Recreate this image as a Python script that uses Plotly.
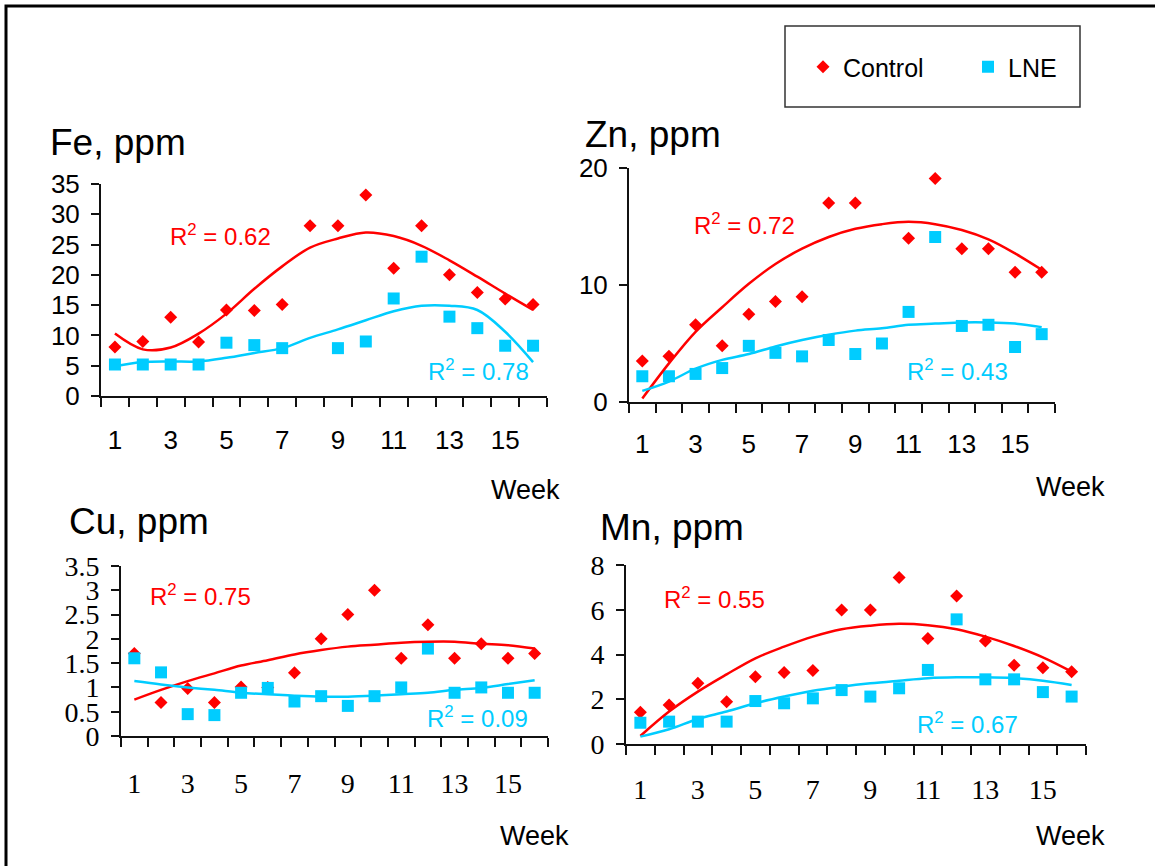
import plotly.graph_objects as go

W, H = 1155, 866

weeks = list(range(1, 17))

# ---- Fe, ppm ----
fe_control = [8.1, 9.0, 13.0, 8.9, 14.2, 14.1, 15.1, 28.1, 28.1, 33.2, 21.1, 28.1, 20.0, 17.1, 16.0, 15.1]
fe_lne = [5.2, 5.2, 5.2, 5.2, 8.8, 8.4, 7.9, None, 7.9, 9.0, 16.1, 23.0, 13.1, 11.2, 8.3, 8.3]
fe_control_trend = [10.3, 7.7, 8.0, 10.3, 13.6, 17.7, 21.4, 24.5, 26.0, 27.0, 26.4, 24.8, 22.4, 19.7, 16.9, 14.2]
fe_lne_trend = [4.9, 5.6, 5.7, 5.7, 6.3, 7.1, 7.9, 9.6, 11.0, 12.5, 14.0, 14.9, 14.9, 14.2, 10.6, 5.6]

# ---- Zn, ppm ----
zn_control = [3.5, 3.9, 6.6, 4.8, 7.5, 8.6, 9.0, 17.0, 17.0, None, 14.0, 19.1, 13.1, 13.1, 11.1, 11.1]
zn_lne = [2.2, 2.2, 2.4, 2.9, 4.8, 4.2, 3.9, 5.3, 4.1, 5.0, 7.7, 14.1, 6.5, 6.6, 4.7, 5.8]
zn_control_trend = [0.3, 3.3, 6.0, 8.1, 10.1, 11.8, 13.1, 14.1, 14.8, 15.2, 15.4, 15.2, 14.7, 13.9, 12.7, 11.3]
zn_lne_trend = [0.95, 1.75, 2.85, 3.6, 4.1, 4.75, 5.3, 5.75, 6.1, 6.3, 6.6, 6.7, 6.8, 6.8, 6.7, 6.4]

# ---- Cu, ppm ----
cu_control = [1.70, 0.69, 0.98, 0.69, 1.01, 1.0, 1.30, 2.0, 2.5, 3.0, 1.6, 2.29, 1.6, 1.9, 1.6, 1.7]
cu_lne = [1.6, 1.31, 0.45, 0.43, 0.89, 0.99, 0.71, 0.82, 0.62, 0.82, 1.0, 1.8, 0.89, 1.0, 0.89, 0.89]
cu_control_trend = [0.75, 0.95, 1.13, 1.29, 1.45, 1.56, 1.68, 1.77, 1.84, 1.88, 1.92, 1.94, 1.94, 1.90, 1.87, 1.80]
cu_lne_trend = [1.13, 1.06, 1.0, 0.95, 0.89, 0.86, 0.83, 0.81, 0.81, 0.83, 0.86, 0.89, 0.95, 0.99, 1.07, 1.15]

# ---- Mn, ppm ----
mn_control = [1.42, 1.74, 2.71, 1.89, 3.01, 3.2, 3.28, 5.99, 5.99, 7.44, 4.72, 6.62, 4.6, 3.52, 3.41, 3.23]
mn_lne = [0.95, 1.0, 1.0, 1.0, 1.92, 1.82, 2.04, 2.41, 2.12, 2.49, 3.31, 5.57, 2.89, 2.89, 2.32, 2.12]
mn_control_trend = [0.36, 1.45, 2.34, 3.11, 3.83, 4.35, 4.8, 5.13, 5.29, 5.37, 5.31, 5.13, 4.8, 4.38, 3.87, 3.23]
mn_lne_trend = [0.33, 0.66, 1.12, 1.45, 1.82, 2.12, 2.38, 2.56, 2.71, 2.83, 2.94, 2.98, 2.98, 2.94, 2.83, 2.64]

x_tick_vals = [1, 3, 5, 7, 9, 11, 13, 15]
x_tick_text = ["1", "3", "5", "7", "9", "11", "13", "15"]
x_bounds = [i + 0.5 for i in range(0, 17)]

RED = "#FF0000"
CYAN = "#00CCFF"
SANS = "Liberation Sans, Arial, sans-serif"
SERIF = "Liberation Serif, Times New Roman, serif"

panels = [
    dict(title="Fe, ppm", c=fe_control, l=fe_lne, ct=fe_control_trend, lt=fe_lne_trend,
         ymax=35, yvals=[0, 5, 10, 15, 20, 25, 30, 35], ytext=None,
         dx=(101, 547), dy=(184, 396), font=SANS, fsize=26, r2c="0.62", r2l="0.78",
         tpos=(48, 142), wpos=(562, 490), rc=(168, 235), rl=(426, 370), stand=20),
    dict(title="Zn, ppm", c=zn_control, l=zn_lne, ct=zn_control_trend, lt=zn_lne_trend,
         ymax=20, yvals=[0, 10, 20], ytext=None,
         dx=(629, 1055), dy=(168, 402), font=SANS, fsize=26, r2c="0.72", r2l="0.43",
         tpos=(583, 134), wpos=(1107, 487), rc=(692, 224), rl=(905, 370), stand=18),
    dict(title="Cu, ppm", c=cu_control, l=cu_lne, ct=cu_control_trend, lt=cu_lne_trend,
         ymax=3.5, yvals=[0, 0.5, 1, 1.5, 2, 2.5, 3, 3.5],
         ytext=["0", "0.5", "1", "1.5", "2", "2.5", "3", "3.5"],
         dx=(121, 548), dy=(566, 736), font=SERIF, fsize=28, r2c="0.75", r2l="0.09",
         tpos=(67, 521), wpos=(571, 836), rc=(148, 595), rl=(425, 717), stand=21),
    dict(title="Mn, ppm", c=mn_control, l=mn_lne, ct=mn_control_trend, lt=mn_lne_trend,
         ymax=8, yvals=[0, 2, 4, 6, 8], ytext=None,
         dx=(626, 1086), dy=(565, 744), font=SERIF, fsize=28, r2c="0.55", r2l="0.67",
         tpos=(598, 527), wpos=(1107, 836), rc=(662, 598), rl=(915, 723), stand=19),
]

fig = go.Figure()
annotations = []
layout_axes = {}

for i, p in enumerate(panels):
    n = i + 1
    xa = "x" if n == 1 else f"x{n}"
    ya = "y" if n == 1 else f"y{n}"
    first = (n == 1)
    fig.add_trace(go.Scatter(x=weeks, y=p["c"], mode="markers", name="Control",
                             marker=dict(symbol="diamond", size=10, color=RED),
                             xaxis=xa, yaxis=ya, showlegend=first, legendrank=1))
    fig.add_trace(go.Scatter(x=weeks, y=p["l"], mode="markers", name="LNE",
                             marker=dict(symbol="square", size=12, color=CYAN),
                             xaxis=xa, yaxis=ya, showlegend=first, legendrank=2))
    fig.add_trace(go.Scatter(x=weeks, y=p["ct"], mode="lines", line=dict(color=RED, width=2.5, shape="spline"),
                             xaxis=xa, yaxis=ya, showlegend=False, hoverinfo="skip"))
    fig.add_trace(go.Scatter(x=weeks, y=p["lt"], mode="lines", line=dict(color=CYAN, width=2.5, shape="spline"),
                             xaxis=xa, yaxis=ya, showlegend=False, hoverinfo="skip"))

    xkey = "xaxis" if n == 1 else f"xaxis{n}"
    ykey = "yaxis" if n == 1 else f"yaxis{n}"
    layout_axes[xkey] = dict(
        domain=[p["dx"][0] / W, p["dx"][1] / W], anchor=ya, automargin=False,
        range=[0.5, 16.5], showgrid=False, zeroline=False,
        showline=True, linecolor="#111", linewidth=2,
        tickmode="array", tickvals=x_tick_vals, ticktext=x_tick_text, ticks="",
        ticklabelstandoff=p["stand"],
        tickfont=dict(family=p["font"], size=p["fsize"], color="black"),
        minor=dict(tickmode="array", tickvals=x_bounds, ticks="outside", ticklen=9,
                   tickwidth=2, tickcolor="#111", showgrid=False),
    )
    ydict = dict(
        domain=[1 - p["dy"][1] / H, 1 - p["dy"][0] / H], anchor=xa, automargin=False,
        range=[0, p["ymax"]], showgrid=False, zeroline=False,
        showline=True, linecolor="#111", linewidth=2,
        tickmode="array", tickvals=p["yvals"], ticks="outside", ticklen=8,
        tickwidth=2, tickcolor="#111", ticklabelstandoff=6,
        tickfont=dict(family=p["font"], size=p["fsize"], color="black"),
    )
    if p["ytext"]:
        ydict["ticktext"] = p["ytext"]
    layout_axes[ykey] = ydict

    annotations.append(dict(text=p["title"], x=p["tpos"][0] / W, y=1 - p["tpos"][1] / H,
                            xref="paper", yref="paper", xanchor="left", yanchor="middle",
                            showarrow=False, font=dict(family=SANS, size=37, color="black")))
    annotations.append(dict(text="Week", x=p["wpos"][0] / W, y=1 - p["wpos"][1] / H,
                            xref="paper", yref="paper", xanchor="right", yanchor="middle",
                            showarrow=False, font=dict(family=SANS, size=27, color="black")))
    annotations.append(dict(text="R<sup>2</sup> = " + p["r2c"], x=p["rc"][0] / W, y=1 - p["rc"][1] / H,
                            xref="paper", yref="paper", xanchor="left", yanchor="middle",
                            showarrow=False, font=dict(family=SANS, size=24, color=RED)))
    annotations.append(dict(text="R<sup>2</sup> = " + p["r2l"], x=p["rl"][0] / W, y=1 - p["rl"][1] / H,
                            xref="paper", yref="paper", xanchor="left", yanchor="middle",
                            showarrow=False, font=dict(family=SANS, size=24, color=CYAN)))

shapes = [
    # outer frame (left and top edges)
    dict(type="path", xref="paper", yref="paper",
         path=f"M {6/W} 0 L {6/W} {1-6/H} L 1.01 {1-6/H}",
         line=dict(color="black", width=3)),
    # legend box
    dict(type="rect", xref="paper", yref="paper",
         x0=785 / W, x1=1080 / W, y0=1 - 107 / H, y1=1 - 26 / H,
         line=dict(color="#333", width=1.5), fillcolor="rgba(0,0,0,0)"),
]

fig.update_layout(
    template="none",
    width=W, height=H,
    margin=dict(l=0, r=0, t=0, b=0, pad=0, autoexpand=False),
    paper_bgcolor="white", plot_bgcolor="white",
    font=dict(family=SANS, color="black"),
    showlegend=True,
    legend=dict(orientation="h", x=803 / W, y=1 - 67 / H, xanchor="left", yanchor="middle",
                font=dict(family=SANS, size=25, color="black"),
                bgcolor="rgba(0,0,0,0)", borderwidth=0,
                entrywidth=120, entrywidthmode="pixels", itemsizing="trace"),
    annotations=annotations,
    shapes=shapes,
    **layout_axes,
)

fig.write_html("out.html")
